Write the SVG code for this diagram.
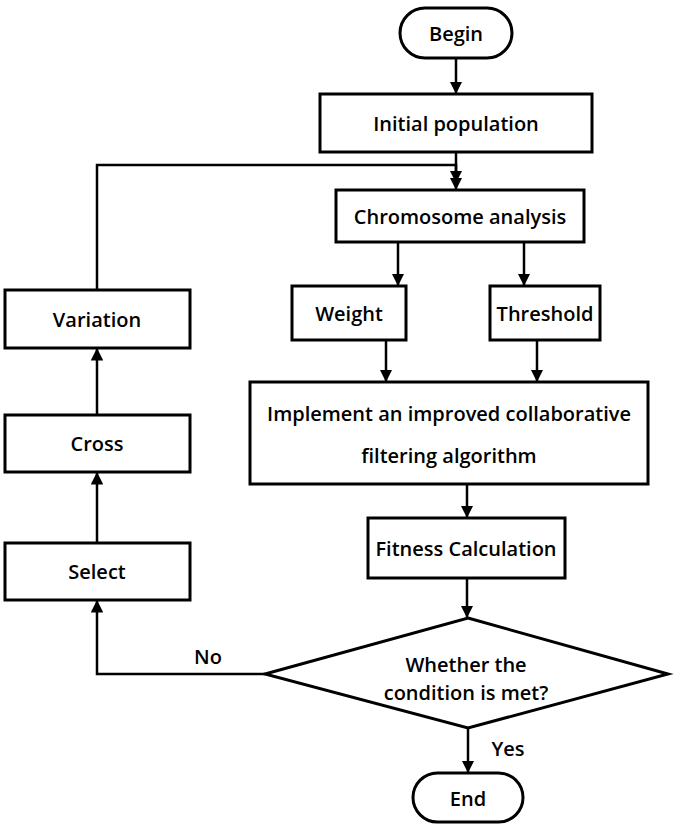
<svg xmlns="http://www.w3.org/2000/svg" width="685" height="827" viewBox="0 0 685 827">
<style>
.b{fill:#fff;stroke:#000;stroke-width:3}
.t{font-family:"Open Sans",sans-serif;font-weight:600;font-size:20px;text-anchor:middle;dominant-baseline:central;fill:#000}
.c{fill:none;stroke:#000;stroke-width:2.5;marker-end:url(#a)}
</style>
<defs><marker id="a" viewBox="0 0 10 10" refX="10" refY="5" markerWidth="5" markerHeight="5" orient="auto" markerUnits="strokeWidth"><path d="M0,0L10,5L0,10z"/></marker></defs>
<rect width="685" height="827" fill="#fff"/>
<g id="connectors">
<path class="c" d="M456,58V94"/>
<path class="c" d="M456,152V190"/>
<path class="c" d="M97,290V165H456V183"/>
<path class="c" d="M398,242V286"/>
<path class="c" d="M524,242V286"/>
<path class="c" d="M386,340V382"/>
<path class="c" d="M537,340V382"/>
<path class="c" d="M467,484V518"/>
<path class="c" d="M467,578V618"/>
<path class="c" d="M468,728V773"/>
<path class="c" d="M265,674H97V600"/>
<path class="c" d="M97,543V472"/>
<path class="c" d="M97,415V348"/>
<text class="t" x="208" y="656">No</text>
<text class="t" x="508" y="748">Yes</text>
</g>
<g id="begin"><rect class="b" x="400" y="8" width="112" height="50" rx="25"/><text class="t" x="456" y="33">Begin</text></g>
<g id="init"><rect class="b" x="320" y="94" width="272" height="58"/><text class="t" x="456" y="123">Initial population</text></g>
<g id="chrom"><rect class="b" x="336" y="190" width="248" height="52"/><text class="t" x="460" y="216">Chromosome analysis</text></g>
<g id="weight"><rect class="b" x="292" y="286" width="114" height="54"/><text class="t" x="349" y="313">Weight</text></g>
<g id="threshold"><rect class="b" x="490" y="286" width="110" height="54"/><text class="t" x="545" y="313">Threshold</text></g>
<g id="impl"><rect class="b" x="250" y="382" width="398" height="102"/><text class="t" x="449" y="413">Implement an improved collaborative</text><text class="t" x="449" y="455">filtering algorithm</text></g>
<g id="fitness"><rect class="b" x="368" y="518" width="197" height="60"/><text class="t" x="466" y="548">Fitness Calculation</text></g>
<g id="cond"><polygon class="b" points="468,618 668,674 468,728 265,674"/><text class="t" x="466" y="664">Whether the</text><text class="t" x="466" y="692">condition is met?</text></g>
<g id="end"><rect class="b" x="413" y="773" width="110" height="49" rx="24.5"/><text class="t" x="468" y="798">End</text></g>
<g id="variation"><rect class="b" x="5" y="290" width="185" height="58"/><text class="t" x="97" y="319">Variation</text></g>
<g id="cross"><rect class="b" x="5" y="415" width="185" height="57"/><text class="t" x="97" y="443">Cross</text></g>
<g id="select"><rect class="b" x="5" y="543" width="185" height="57"/><text class="t" x="97" y="571">Select</text></g>
</svg>
